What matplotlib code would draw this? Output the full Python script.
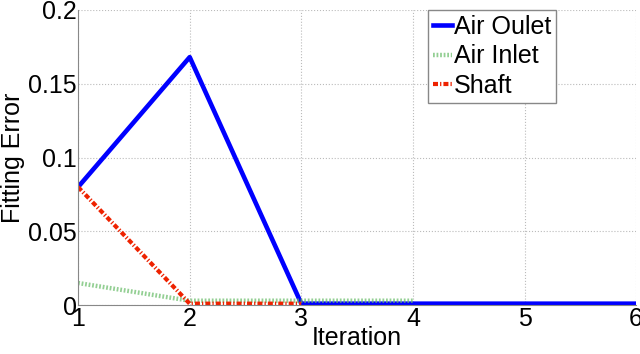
import matplotlib
matplotlib.use("Agg")
import matplotlib.pyplot as plt

iter_out = [1, 2, 3, 4, 5, 6]
air_outlet = [0.080, 0.168, 0.001, 0.001, 0.001, 0.001]
iter_in = [1, 2, 3, 4]
air_inlet = [0.015, 0.003, 0.003, 0.003]
iter_shaft = [1, 2, 3]
shaft = [0.080, 0.001, 0.001]

plt.rcParams['font.family'] = ['Liberation Sans', 'DejaVu Sans']

fig = plt.figure(figsize=(6.4, 3.54), dpi=100)
ax = fig.add_axes([0.122, 0.138, 0.872, 0.834])

ax.plot(iter_out, air_outlet, color='#0000ff', lw=3.3, label='Air Oulet')
ax.plot(iter_in, air_inlet, color='#66bb66', lw=3.2, ls=(0, (0.4, 0.4)), alpha=0.7, label='Air Inlet')
ax.plot(iter_shaft, shaft, color='#ee2200', lw=3.0, ls=(0, (1.2, 0.5, 0.3, 0.5)), label='Shaft')

ax.set_xlim(1, 6)
ax.set_ylim(0, 0.2)
ax.set_xticks([1, 2, 3, 4, 5, 6])
ax.set_yticks([0, 0.05, 0.1, 0.15, 0.2])
ax.set_yticklabels(['0', '0.05', '0.1', '0.15', '0.2'])
ax.tick_params(labelsize=18, length=0, pad=1)
ax.grid(True, ls=':', color='#bbbbbb', lw=0.8)
for s in ['top', 'right']:
    ax.spines[s].set_visible(False)
for s in ['left', 'bottom']:
    ax.spines[s].set_color('#888888')
ax.set_xlabel('Iteration', fontsize=18, labelpad=-3)
ax.set_ylabel('Fitting Error', fontsize=18, labelpad=2)

leg = ax.legend(loc='upper left', bbox_to_anchor=(0.627, 1.0), borderaxespad=0,
                fontsize=18, handlelength=0.75, handletextpad=0.1, labelspacing=0.22,
                borderpad=0.2, fancybox=False, framealpha=1)
leg.get_frame().set_edgecolor('#888888')

fig.savefig('out.png', dpi=100)
